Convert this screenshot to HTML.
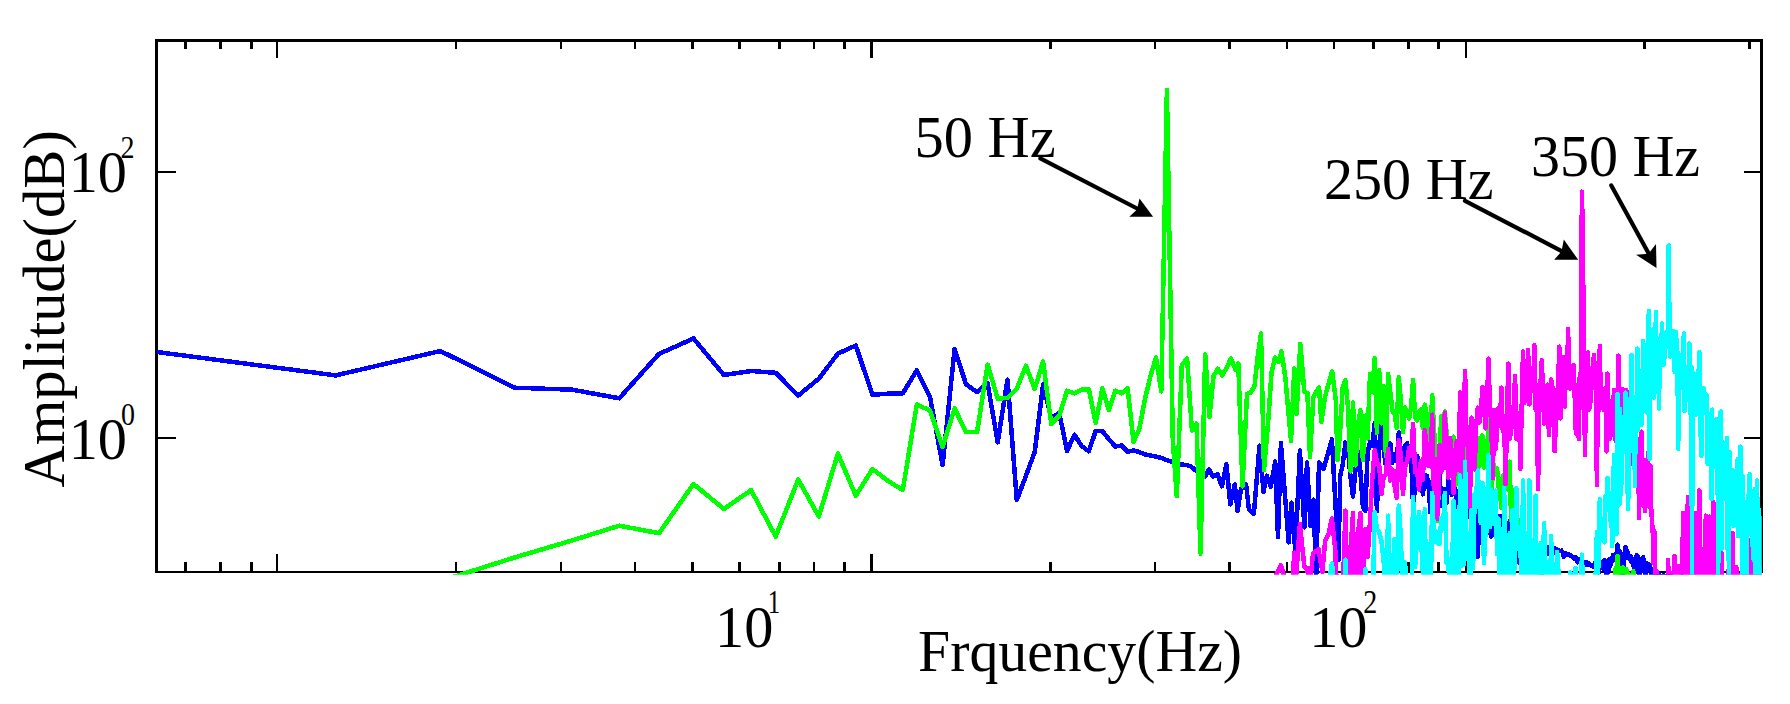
<!DOCTYPE html>
<html><head><meta charset="utf-8"><title>Spectrum</title>
<style>html,body{margin:0;padding:0;background:#fff}svg{display:block}text{font-family:"Liberation Serif","Times New Roman",serif;fill:#000}</style></head>
<body>
<svg width="1790" height="704" viewBox="0 0 1790 704">
<rect width="1790" height="704" fill="#fff"/>
<defs><clipPath id="c"><rect x="155" y="39" width="1606.8" height="535.7"/></clipPath></defs>
<g fill="none" stroke="#000" shape-rendering="crispEdges">
<line x1="156.5" y1="39" x2="156.5" y2="573" stroke-width="3"/>
<line x1="1761.4" y1="39" x2="1761.4" y2="573" stroke-width="3"/>
<line x1="155" y1="40.5" x2="1762.9" y2="40.5" stroke-width="3"/>
<line x1="155" y1="572" x2="1762.9" y2="572" stroke-width="2"/>
<g stroke-width="2.6"><line x1="185.5" y1="572" x2="185.5" y2="562"/><line x1="185.5" y1="40.5" x2="185.5" y2="49"/><line x1="220.5" y1="572" x2="220.5" y2="562"/><line x1="220.5" y1="40.5" x2="220.5" y2="49"/><line x1="251.2" y1="572" x2="251.2" y2="562"/><line x1="251.2" y1="40.5" x2="251.2" y2="49"/><line x1="456.1" y1="572" x2="456.1" y2="562"/><line x1="456.1" y1="40.5" x2="456.1" y2="49"/><line x1="560.8" y1="572" x2="560.8" y2="562"/><line x1="560.8" y1="40.5" x2="560.8" y2="49"/><line x1="635.0" y1="572" x2="635.0" y2="562"/><line x1="635.0" y1="40.5" x2="635.0" y2="49"/><line x1="692.6" y1="572" x2="692.6" y2="562"/><line x1="692.6" y1="40.5" x2="692.6" y2="49"/><line x1="739.7" y1="572" x2="739.7" y2="562"/><line x1="739.7" y1="40.5" x2="739.7" y2="49"/><line x1="779.4" y1="572" x2="779.4" y2="562"/><line x1="779.4" y1="40.5" x2="779.4" y2="49"/><line x1="813.9" y1="572" x2="813.9" y2="562"/><line x1="813.9" y1="40.5" x2="813.9" y2="49"/><line x1="844.3" y1="572" x2="844.3" y2="562"/><line x1="844.3" y1="40.5" x2="844.3" y2="49"/><line x1="1050.4" y1="572" x2="1050.4" y2="562"/><line x1="1050.4" y1="40.5" x2="1050.4" y2="49"/><line x1="1155.1" y1="572" x2="1155.1" y2="562"/><line x1="1155.1" y1="40.5" x2="1155.1" y2="49"/><line x1="1229.3" y1="572" x2="1229.3" y2="562"/><line x1="1229.3" y1="40.5" x2="1229.3" y2="49"/><line x1="1286.9" y1="572" x2="1286.9" y2="562"/><line x1="1286.9" y1="40.5" x2="1286.9" y2="49"/><line x1="1334.0" y1="572" x2="1334.0" y2="562"/><line x1="1334.0" y1="40.5" x2="1334.0" y2="49"/><line x1="1373.7" y1="572" x2="1373.7" y2="562"/><line x1="1373.7" y1="40.5" x2="1373.7" y2="49"/><line x1="1408.2" y1="572" x2="1408.2" y2="562"/><line x1="1408.2" y1="40.5" x2="1408.2" y2="49"/><line x1="1438.6" y1="572" x2="1438.6" y2="562"/><line x1="1438.6" y1="40.5" x2="1438.6" y2="49"/><line x1="1644.7" y1="572" x2="1644.7" y2="562"/><line x1="1644.7" y1="40.5" x2="1644.7" y2="49"/><line x1="1749.4" y1="572" x2="1749.4" y2="562"/><line x1="1749.4" y1="40.5" x2="1749.4" y2="49"/><line x1="277.0" y1="572" x2="277.0" y2="553.5"/><line x1="277.0" y1="40.5" x2="277.0" y2="58"/><line x1="871.5" y1="572" x2="871.5" y2="553.5"/><line x1="871.5" y1="40.5" x2="871.5" y2="58"/><line x1="1465.8" y1="572" x2="1465.8" y2="553.5"/><line x1="1465.8" y1="40.5" x2="1465.8" y2="58"/><line x1="156.5" y1="438" x2="176" y2="438" stroke-width="2"/><line x1="1761.4" y1="438" x2="1743.5" y2="438" stroke-width="2"/><line x1="156.5" y1="171.8" x2="176" y2="171.8" stroke-width="2"/><line x1="1761.4" y1="171.8" x2="1743.5" y2="171.8" stroke-width="2"/></g>
</g>
<g clip-path="url(#c)" shape-rendering="crispEdges" fill="none" stroke-width="4.5" stroke-linejoin="round" stroke-linecap="butt">
<path stroke="#0000ff" d="M156.8,352.0 L335.7,375.4 L440.4,351.0 L514.6,387.7 L572.2,389.7 L619.3,398.3 L659.0,353.9 L693.5,338.5 L723.9,375.0 L751.1,371.0 L775.7,372.8 L798.2,395.5 L818.8,378.7 L837.9,353.6 L855.8,345.5 L872.4,394.8 L888.1,393.7 L902.8,393.3 L916.8,370.2 L930.0,397.0 L942.6,465.2 L954.6,349.1 L966.1,384.5 L977.1,392.0 L987.6,383.3 L997.7,442.3 L1007.5,379.6 L1016.8,500.0 L1025.9,476.0 L1034.7,452.0 L1043.1,384.6 L1051.3,418.0 L1059.3,413.0 L1067.0,451.3 L1074.4,434.7 L1081.7,446.0 L1088.8,451.3 L1095.7,431.0 L1102.4,431.0 L1108.9,439.2 L1115.3,446.5 L1121.5,445.5 L1127.6,451.8 L1133.5,450.4 L1139.3,452.0 L1145.0,454.5 L1150.5,455.5 L1156.0,456.5 L1161.3,458.0 L1166.5,460.0 L1171.6,461.5 L1176.6,463.5 L1181.5,464.5 L1186.4,465.0 L1191.1,466.5 L1195.7,470.5 L1200.3,473.0 L1204.8,477.0 L1209.0,469.6 L1213.0,476.8 L1217.4,474.1 L1221.9,486.3 L1226.4,464.3 L1230.3,504.3 L1234.8,484.5 L1237.6,511.0 L1241.0,489.0 L1246.1,484.5 L1248.9,509.3 L1253.9,513.8 L1259.5,445.5 L1263.5,491.9 L1266.8,475.6 L1270.8,486.9 L1275.2,461.4 L1278.0,537.3 L1280.9,443.2 L1288.7,542.5 L1291.5,502.5 L1295.4,552.0 L1299.9,450.5 L1304.4,527.3 L1307.0,462.3 L1310.6,526.2 L1313.4,499.7 L1316.2,576.0 L1319.0,462.3 L1323.5,469.0 L1331.9,439.3 L1338.5,560.0 L1340.2,476.5 L1342.8,463.8 L1345.4,442.5 L1348.0,448.9 L1350.5,476.9 L1353.0,496.5 L1355.5,469.3 L1358.0,451.5 L1360.4,471.2 L1362.9,506.6 L1365.3,510.9 L1367.6,452.9 L1370.0,442.1 L1372.3,445.4 L1374.7,423.4 L1376.9,511.3 L1379.2,445.5 L1381.5,423.9 L1383.7,449.0 L1385.9,466.1 L1388.1,447.2 L1390.3,443.6 L1392.5,462.6 L1394.6,454.0 L1396.7,461.4 L1398.8,432.4 L1400.9,452.3 L1403.0,484.2 L1405.1,445.1 L1407.1,443.1 L1409.1,458.5 L1411.1,455.5 L1413.1,508.3 L1415.1,485.1 L1417.1,455.9 L1419.0,462.6 L1420.9,472.2 L1422.9,494.4 L1424.8,475.6 L1426.7,475.6 L1428.5,485.2 L1430.4,512.5 L1432.2,482.1 L1434.1,505.1 L1435.9,515.9 L1437.7,477.0 L1439.5,472.1 L1441.3,505.9 L1443.1,506.6 L1444.8,488.9 L1446.6,503.1 L1448.3,480.6 L1450.1,487.6 L1451.8,494.6 L1453.5,474.9 L1455.2,488.1 L1456.8,508.6 L1458.5,513.3 L1460.2,497.4 L1461.8,507.2 L1463.5,486.5 L1465.1,526.1 L1466.7,510.6 L1468.3,516.6 L1469.9,498.4 L1471.5,496.5 L1473.1,500.6 L1474.7,523.8 L1476.2,498.9 L1477.8,556.7 L1479.3,517.9 L1480.8,497.6 L1482.4,499.6 L1483.9,553.5 L1485.4,512.2 L1486.9,533.2 L1488.4,517.5 L1489.8,530.6 L1491.3,536.7 L1492.8,522.7 L1494.2,521.8 L1495.7,525.9 L1497.1,525.8 L1498.5,533.1 L1500.0,516.2 L1501.4,538.2 L1502.8,519.7 L1504.2,527.6 L1505.6,527.1 L1507.0,563.2 L1508.3,530.4 L1509.7,521.0 L1511.1,536.4 L1512.4,525.5 L1513.8,540.2 L1515.1,549.4 L1516.4,533.5 L1517.8,534.5 L1519.1,562.5 L1520.4,537.2 L1521.7,545.8 L1523.0,537.9 L1524.3,549.8 L1525.6,555.7 L1526.9,540.8 L1528.1,547.5 L1529.4,544.0 L1530.7,571.7 L1531.9,548.1 L1533.2,547.8 L1534.4,553.9 L1535.7,557.7 L1536.9,557.7 L1538.1,546.9 L1539.3,548.9 L1540.6,547.0 L1541.8,553.2 L1543.0,549.0 L1544.2,550.5 L1545.4,549.6 L1546.5,549.0 L1547.7,554.1 L1548.9,547.2 L1550.1,549.0 L1551.2,548.6 L1552.4,553.9 L1553.6,552.6 L1554.7,547.8 L1555.8,551.2 L1557.0,549.4 L1558.1,551.2 L1559.3,550.4 L1560.4,551.2 L1561.5,550.6 L1562.6,552.4 L1563.7,556.7 L1564.8,555.7 L1565.9,553.4 L1567.0,554.8 L1568.1,554.8 L1569.2,554.5 L1570.3,556.1 L1571.4,555.6 L1572.4,556.6 L1573.5,557.6 L1574.6,559.0 L1575.6,557.5 L1576.7,558.9 L1577.7,562.4 L1578.8,561.1 L1579.8,559.2 L1580.9,563.4 L1581.9,561.3 L1582.9,563.5 L1584.0,562.0 L1585.0,562.1 L1586.0,565.0 L1587.0,562.4 L1588.0,564.1 L1589.0,563.2 L1590.0,565.1 L1591.0,565.1 L1592.0,566.0 L1593.0,566.8 L1594.0,565.4 L1595.0,563.0 L1596.0,565.5 L1596.9,566.6 L1597.9,568.3 L1598.9,572.3 L1599.8,565.4 L1600.8,566.0 L1601.8,562.8 L1602.7,566.9 L1603.7,568.9 L1604.6,560.0 L1605.6,561.9 L1606.5,573.6 L1607.4,566.2 L1608.4,571.9 L1609.3,559.4 L1610.2,565.8 L1611.1,563.4 L1612.1,558.4 L1613.0,555.0 L1613.9,556.0 L1614.8,560.2 L1615.7,553.7 L1616.6,559.4 L1617.5,544.5 L1618.4,563.9 L1619.3,551.0 L1620.2,551.6 L1621.1,558.0 L1622.0,563.4 L1622.9,580.6 L1623.7,557.6 L1624.6,558.4 L1625.5,547.0 L1626.4,558.1 L1627.2,551.0 L1628.1,555.1 L1629.0,558.6 L1629.8,556.1 L1630.7,556.6 L1631.5,561.5 L1632.4,562.6 L1633.2,559.5 L1634.1,570.7 L1634.9,567.5 L1635.7,571.7 L1636.6,555.1 L1637.4,558.7 L1638.2,557.1 L1639.1,568.7 L1639.9,581.1 L1640.7,561.5 L1641.5,564.7 L1642.4,557.8 L1643.2,557.1 L1644.0,571.2 L1644.8,563.4 L1645.6,577.3 L1646.4,566.1 L1647.2,563.5 L1648.0,568.1 L1648.8,568.4 L1649.6,564.7 L1650.4,567.5 L1651.2,569.5 L1652.0,576.6 L1652.8,569.5 L1653.6,573.1 L1654.3,570.2 L1655.1,572.5 L1655.9,574.1 L1656.7,573.8 L1657.4,577.6 L1658.2,576.1 L1659.0,574.3 L1659.7,576.7 L1660.5,576.9 L1661.3,578.2 L1662.0,576.8 L1662.8,578.5 L1663.5,575.4 L1664.3,578.1 L1665.0,577.0 L1665.8,576.4 L1666.5,576.7 L1667.3,576.5 L1668.0,577.1 L1668.7,579.4 L1669.5,576.9 L1670.2,575.8 L1670.9,579.0 L1671.7,576.5 L1672.4,577.8 L1673.1,577.5 L1673.9,578.2 L1674.6,577.4 L1675.3,577.8 L1676.0,577.9 L1676.7,577.9 L1677.4,577.1 L1678.2,577.0 L1678.9,578.3 L1679.6,579.9 L1680.3,578.1 L1681.0,579.0 L1681.7,577.7 L1682.4,576.5 L1683.1,580.1 L1683.8,580.5 L1684.5,580.4 L1685.2,578.5 L1685.9,580.6 L1686.5,580.4 L1687.2,577.8 L1687.9,578.0 L1688.6,578.7 L1689.3,577.9 L1690.0,580.4 L1690.6,578.1 L1691.3,576.7 L1692.0,577.3 L1692.7,577.2 L1693.3,579.4 L1694.0,576.8 L1694.7,578.8 L1695.3,580.2 L1696.0,580.8 L1696.7,578.6 L1697.3,578.4 L1698.0,581.8 L1698.6,578.4 L1699.3,580.9 L1700.0,580.1 L1700.6,579.5 L1701.3,578.5 L1701.9,578.1 L1702.6,578.3 L1703.2,578.4 L1703.8,579.2 L1704.5,579.0 L1705.1,578.7 L1705.8,579.5 L1706.4,577.9 L1707.0,578.2 L1707.7,579.7 L1708.3,580.3 L1708.9,578.8 L1709.6,580.5 L1710.2,577.6 L1710.8,577.6 L1711.5,582.3 L1712.1,581.4 L1712.7,578.3 L1713.3,582.1 L1713.9,581.4 L1714.6,579.2 L1715.2,580.4 L1715.8,579.9 L1716.4,580.0 L1717.0,581.9 L1717.6,580.1 L1718.2,579.1 L1718.9,579.5 L1719.5,579.2 L1720.1,579.9 L1720.7,579.5 L1721.3,580.9 L1721.9,579.5 L1722.5,579.6 L1723.1,579.5 L1723.7,580.0 L1724.3,578.2 L1724.9,583.8 L1725.4,578.3 L1726.0,579.8 L1726.6,579.5 L1727.2,579.8 L1727.8,579.9 L1728.4,579.7 L1729.0,581.3 L1729.6,580.8 L1730.1,580.2 L1730.7,580.3 L1731.3,580.5 L1731.9,579.8 L1732.5,580.5 L1733.0,581.2 L1733.6,581.2 L1734.2,580.9 L1734.7,580.8 L1735.3,581.4 L1735.9,580.0 L1736.5,579.8 L1737.0,582.4 L1737.6,580.0 L1738.2,579.1 L1738.7,579.8 L1739.3,581.7 L1739.8,582.4 L1740.4,581.3 L1741.0,581.0 L1741.5,582.2 L1742.1,580.1 L1742.6,580.6 L1743.2,582.7 L1743.7,582.2 L1744.3,580.7 L1744.8,580.5 L1745.4,580.1 L1745.9,579.5 L1746.5,581.0 L1747.0,580.7 L1747.6,580.0 L1748.1,580.9 L1748.6,581.0 L1749.2,579.4 L1749.7,581.3 L1750.3,579.5 L1750.8,582.6 L1751.3,579.9 L1751.9,582.2 L1752.4,580.7 L1752.9,580.4 L1753.5,580.0 L1754.0,581.4 L1754.5,580.3 L1755.1,581.6 L1755.6,579.7 L1756.1,582.0 L1756.6,580.9 L1757.2,581.4 L1757.7,580.1 L1758.2,580.2 L1758.7,580.2 L1759.2,581.4 L1759.8,582.3 L1760.3,581.4 L1760.8,580.9"/>
<path stroke="#00ff00" d="M440.4,581.0 L514.6,557.5 L572.2,540.4 L619.3,525.7 L659.0,533.2 L693.5,484.0 L723.9,509.0 L751.1,490.1 L775.7,536.5 L798.2,479.6 L818.8,516.4 L837.9,453.6 L855.8,495.8 L872.4,469.0 L888.1,481.0 L902.8,490.0 L916.8,404.6 L930.0,410.4 L942.6,447.0 L954.6,408.4 L966.1,432.2 L977.1,431.9 L987.6,364.5 L997.7,398.7 L1007.5,397.9 L1016.8,388.7 L1025.9,365.7 L1034.7,389.0 L1043.1,361.5 L1051.3,424.2 L1059.3,415.5 L1067.0,390.7 L1074.4,393.3 L1081.7,389.5 L1088.8,389.5 L1095.7,423.0 L1102.4,388.3 L1108.9,410.1 L1115.3,390.7 L1121.5,393.3 L1127.6,388.2 L1133.5,441.8 L1139.3,428.9 L1145.0,399.0 L1150.5,376.0 L1156.0,357.5 L1161.3,391.3 L1166.9,90.1 L1172.8,440.0 L1176.8,496.0 L1181.8,365.0 L1187.1,358.4 L1191.9,430.4 L1196.5,423.6 L1200.5,553.7 L1205.2,354.5 L1209.5,417.2 L1213.5,376.0 L1217.9,368.8 L1222.3,375.6 L1226.9,367.0 L1231.0,358.4 L1235.3,369.4 L1238.3,363.5 L1242.5,486.3 L1247.0,394.0 L1250.8,392.4 L1254.5,386.2 L1257.5,358.2 L1261.0,333.5 L1264.0,470.2 L1268.5,417.0 L1271.5,372.7 L1275.0,357.6 L1278.5,362.0 L1281.5,351.4 L1285.4,378.4 L1288.7,415.0 L1291.0,441.0 L1294.3,368.5 L1296.6,414.0 L1300.3,343.8 L1304.4,392.0 L1307.4,393.0 L1310.0,457.3 L1313.3,397.4 L1316.2,392.0 L1319.1,387.3 L1321.3,422.0 L1324.8,398.0 L1327.6,387.0 L1332.1,371.4 L1335.8,400.0 L1337.5,460.0 L1340.2,430.0 L1342.8,386.2 L1345.4,380.4 L1348.0,407.3 L1350.5,471.4 L1353.0,402.6 L1355.5,465.4 L1358.0,425.5 L1360.4,410.1 L1362.9,460.3 L1365.3,415.7 L1367.6,438.5 L1370.0,374.2 L1372.3,391.4 L1374.7,358.1 L1376.9,432.8 L1379.2,370.3 L1381.5,423.3 L1383.7,386.2 L1385.9,455.9 L1388.1,374.2 L1390.3,392.1 L1392.5,411.4 L1394.6,413.4 L1396.7,428.0 L1398.8,377.2 L1400.9,402.0 L1403.0,432.3 L1405.1,407.6 L1407.1,414.6 L1409.1,418.6 L1411.1,406.8 L1413.1,380.1 L1415.1,417.6 L1417.1,420.4 L1419.0,411.4 L1420.9,409.5 L1422.9,428.4 L1424.8,404.6 L1426.7,414.8 L1428.5,447.0 L1430.4,435.6 L1432.2,395.2 L1434.1,430.8 L1435.9,451.0 L1437.7,521.0 L1439.5,453.6 L1441.3,416.5 L1443.1,423.5 L1444.8,411.4 L1446.6,433.1 L1448.3,443.5 L1450.1,455.0 L1451.8,444.4 L1453.5,436.6 L1455.2,471.2 L1456.8,484.4 L1458.5,440.6 L1460.2,458.3 L1461.8,446.4 L1463.5,447.1 L1465.1,440.2 L1466.7,461.2 L1468.3,464.4 L1469.9,451.4 L1471.5,452.3 L1473.1,455.5 L1474.7,449.0 L1476.2,450.3 L1477.8,437.7 L1479.3,466.6 L1480.8,449.3 L1482.4,435.4 L1483.9,467.5 L1485.4,454.0 L1486.9,466.4 L1488.4,418.9 L1489.8,499.6 L1491.3,523.9 L1492.8,457.3 L1494.2,475.3 L1495.7,470.5 L1497.1,468.3 L1498.5,486.4 L1500.0,492.2 L1501.4,508.1 L1502.8,475.7 L1504.2,475.2 L1505.6,482.1 L1507.0,475.8 L1508.3,489.7 L1509.7,461.6 L1511.1,519.8 L1512.4,489.9 L1513.8,516.3 L1515.1,515.3 L1516.4,525.9 L1517.8,519.0 L1519.1,520.3 L1520.4,528.1 L1521.7,541.8 L1523.0,549.8 L1524.3,532.0 L1525.6,552.1 L1526.9,551.5 L1528.1,567.4 L1529.4,561.5 L1530.7,571.0 L1531.9,564.5 L1533.2,561.0 L1534.4,558.5 L1535.7,566.0 L1536.9,571.6 L1538.1,569.6 L1539.3,571.7 L1540.6,572.5 L1541.8,575.9 L1543.0,576.3 L1544.2,579.7 L1545.4,581.0 L1546.5,580.8 L1547.7,580.4 L1548.9,580.8 L1550.1,581.1 L1551.2,581.2 L1552.4,581.1 L1553.6,581.4 L1554.7,581.4 L1555.8,580.9 L1557.0,581.1 L1558.1,581.4 L1559.3,582.4 L1560.4,581.8 L1561.5,582.1 L1562.6,581.6 L1563.7,582.4 L1564.8,581.7 L1565.9,582.7 L1567.0,582.5 L1568.1,581.9 L1569.2,582.5 L1570.3,582.1 L1571.4,582.7 L1572.4,583.2 L1573.5,582.7 L1574.6,583.0 L1575.6,583.1 L1576.7,583.8 L1577.7,583.8 L1578.8,582.8 L1579.8,582.8 L1580.9,582.9 L1581.9,583.8 L1582.9,584.7 L1584.0,583.7 L1585.0,583.6 L1586.0,583.8 L1587.0,584.9 L1588.0,584.4 L1589.0,583.9 L1590.0,585.2 L1591.0,583.9 L1592.0,583.7 L1593.0,584.8 L1594.0,585.5 L1595.0,583.9 L1596.0,584.4 L1596.9,584.8 L1597.9,584.9 L1598.9,584.4 L1599.8,585.2 L1600.8,586.1 L1601.8,585.0 L1602.7,585.5 L1603.7,585.1 L1604.6,584.7 L1605.6,585.6 L1606.5,585.9 L1607.4,586.6 L1608.4,585.3 L1609.3,586.6 L1610.2,584.5 L1611.1,582.9 L1612.1,579.5 L1613.0,577.8 L1613.9,580.9 L1614.8,579.9 L1615.7,568.1 L1616.6,575.2 L1617.5,556.0 L1618.4,576.0 L1619.3,573.5 L1620.2,568.6 L1621.1,575.3 L1622.0,568.8 L1622.9,567.6 L1623.7,575.4 L1624.6,576.2 L1625.5,585.8 L1626.4,569.0 L1627.2,583.2 L1628.1,574.9 L1629.0,574.4 L1629.8,576.1 L1630.7,576.3 L1631.5,576.9 L1632.4,574.5 L1633.2,571.0 L1634.1,576.4 L1634.9,581.9 L1635.7,585.1 L1636.6,585.3 L1637.4,584.4 L1638.2,587.5 L1639.1,588.0 L1639.9,589.7 L1640.7,590.0 L1641.5,590.0 L1642.4,590.0 L1643.2,590.0 L1644.0,590.0 L1644.8,590.1 L1645.6,590.1 L1646.4,590.1 L1647.2,590.1 L1648.0,590.2 L1648.8,590.2 L1649.6,590.2 L1650.4,590.2 L1651.2,590.5 L1652.0,590.3 L1652.8,590.3 L1653.6,590.3 L1654.3,590.9 L1655.1,590.5 L1655.9,590.1 L1656.7,590.2 L1657.4,590.1 L1658.2,590.3 L1659.0,590.5 L1659.7,590.1 L1660.5,590.7 L1661.3,590.5 L1662.0,590.5 L1662.8,590.6 L1663.5,590.8 L1664.3,590.8 L1665.0,590.5 L1665.8,590.9 L1666.5,590.8 L1667.3,590.9 L1668.0,590.9 L1668.7,590.4 L1669.5,590.7 L1670.2,592.1 L1670.9,590.5 L1671.7,590.8 L1672.4,590.5 L1673.1,590.9 L1673.9,591.2 L1674.6,590.4 L1675.3,591.5 L1676.0,591.3 L1676.7,591.0 L1677.4,590.4 L1678.2,591.9 L1678.9,591.3 L1679.6,591.0 L1680.3,590.8 L1681.0,592.0 L1681.7,590.7 L1682.4,591.0 L1683.1,591.1 L1683.8,591.4 L1684.5,591.5 L1685.2,590.4 L1685.9,590.2 L1686.5,592.0 L1687.2,591.9 L1687.9,591.0 L1688.6,590.8 L1689.3,590.7 L1690.0,591.8 L1690.6,592.1 L1691.3,592.8 L1692.0,591.7 L1692.7,591.3 L1693.3,590.6 L1694.0,593.6 L1694.7,592.9 L1695.3,591.1 L1696.0,591.1 L1696.7,592.8 L1697.3,593.0 L1698.0,593.9 L1698.6,591.2 L1699.3,592.2 L1700.0,592.3 L1700.6,591.2 L1701.3,593.0 L1701.9,591.6 L1702.6,593.3 L1703.2,593.6 L1703.8,591.3 L1704.5,591.0 L1705.1,591.8 L1705.8,592.0 L1706.4,591.3 L1707.0,593.7 L1707.7,592.5 L1708.3,590.6 L1708.9,590.4 L1709.6,594.5 L1710.2,595.5 L1710.8,591.2 L1711.5,592.1 L1712.1,591.2 L1712.7,591.6 L1713.3,592.1 L1713.9,591.4 L1714.6,591.7 L1715.2,595.7 L1715.8,592.1 L1716.4,590.8 L1717.0,591.2 L1717.6,591.6 L1718.2,591.7 L1718.9,591.1 L1719.5,592.9 L1720.1,592.5 L1720.7,591.8 L1721.3,591.1 L1721.9,592.9 L1722.5,593.7 L1723.1,593.1 L1723.7,592.5 L1724.3,594.4 L1724.9,591.9 L1725.4,590.8 L1726.0,592.9 L1726.6,590.4 L1727.2,592.7 L1727.8,592.3 L1728.4,590.3 L1729.0,591.7 L1729.6,592.4 L1730.1,591.5 L1730.7,592.6 L1731.3,591.7 L1731.9,593.8 L1732.5,595.2 L1733.0,592.2 L1733.6,592.5 L1734.2,592.7 L1734.7,594.8 L1735.3,590.7 L1735.9,594.9 L1736.5,590.3 L1737.0,593.4 L1737.6,593.6 L1738.2,590.6 L1738.7,590.4 L1739.3,591.9 L1739.8,590.5 L1740.4,594.5 L1741.0,591.2 L1741.5,592.3 L1742.1,593.7 L1742.6,592.4 L1743.2,595.3 L1743.7,591.6 L1744.3,592.3 L1744.8,595.4 L1745.4,594.4 L1745.9,593.9 L1746.5,593.0 L1747.0,594.3 L1747.6,593.9 L1748.1,592.7 L1748.6,595.1 L1749.2,591.9 L1749.7,593.2 L1750.3,593.4 L1750.8,592.7 L1751.3,595.2 L1751.9,591.1 L1752.4,595.7 L1752.9,592.9 L1753.5,590.4 L1754.0,595.5 L1754.5,592.2 L1755.1,590.4 L1755.6,590.4 L1756.1,593.9 L1756.6,592.6 L1757.2,590.7 L1757.7,592.6 L1758.2,591.3 L1758.7,592.3 L1759.2,597.9 L1759.8,594.1 L1760.3,591.2 L1760.8,593.5"/>
<path stroke="#ff00ff" d="M1273.0,590.0 L1275.8,576.0 L1280.9,565.3 L1284.2,576.0 L1288.0,590.0 L1292.6,580.0 L1294.3,552.7 L1296.0,578.0 L1299.9,524.1 L1304.4,567.3 L1307.2,567.9 L1308.4,578.0 L1310.6,578.0 L1313.0,553.3 L1318.5,549.3 L1322.4,572.0 L1325.2,540.4 L1328.6,533.7 L1331.9,518.5 L1335.3,550.5 L1336.4,578.0 L1340.2,614.8 L1342.8,592.5 L1345.4,510.6 L1348.0,612.5 L1350.5,551.1 L1353.0,513.1 L1355.5,687.9 L1358.0,534.3 L1360.4,513.1 L1362.9,586.9 L1365.3,529.3 L1367.6,556.9 L1370.0,521.0 L1372.3,478.8 L1374.7,450.3 L1376.9,462.0 L1379.2,465.6 L1381.5,494.0 L1383.7,476.4 L1385.9,474.9 L1388.1,449.1 L1390.3,480.5 L1392.5,469.7 L1394.6,485.4 L1396.7,497.8 L1398.8,440.3 L1400.9,455.2 L1403.0,493.8 L1405.1,466.6 L1407.1,461.8 L1409.1,448.0 L1411.1,455.9 L1413.1,423.9 L1415.1,471.8 L1417.1,470.2 L1419.0,489.5 L1420.9,460.7 L1422.9,479.5 L1424.8,430.2 L1426.7,445.7 L1428.5,465.8 L1430.4,466.3 L1432.2,414.6 L1434.1,501.3 L1435.9,458.9 L1437.7,519.2 L1439.5,445.0 L1441.3,471.8 L1443.1,467.6 L1444.8,412.6 L1446.6,452.5 L1448.3,477.6 L1450.1,438.2 L1451.8,452.3 L1453.5,492.9 L1455.2,455.5 L1456.8,441.0 L1458.5,469.6 L1460.2,392.5 L1461.8,481.4 L1463.5,422.5 L1465.1,371.1 L1466.7,445.1 L1468.3,446.3 L1469.9,507.4 L1471.5,417.6 L1473.1,429.9 L1474.7,469.6 L1476.2,425.3 L1477.8,407.6 L1479.3,422.3 L1480.8,414.1 L1482.4,387.0 L1483.9,390.4 L1485.4,428.3 L1486.9,409.0 L1488.4,358.6 L1489.8,401.4 L1491.3,425.7 L1492.8,478.0 L1494.2,410.1 L1495.7,449.3 L1497.1,430.6 L1498.5,408.0 L1500.0,422.6 L1501.4,387.5 L1502.8,431.3 L1504.2,422.4 L1505.6,484.0 L1507.0,418.8 L1508.3,363.6 L1509.7,438.6 L1511.1,431.2 L1512.4,410.9 L1513.8,404.9 L1515.1,376.2 L1516.4,438.8 L1517.8,413.4 L1519.1,413.2 L1520.4,468.9 L1521.7,407.6 L1523.0,351.5 L1524.3,402.7 L1525.6,393.7 L1526.9,383.7 L1528.1,349.8 L1529.4,404.4 L1530.7,387.9 L1531.9,379.7 L1533.2,385.4 L1534.4,345.2 L1535.7,409.7 L1536.9,407.1 L1538.1,489.0 L1539.3,383.9 L1540.6,381.9 L1541.8,360.3 L1543.0,392.1 L1544.2,423.7 L1545.4,403.6 L1546.5,404.6 L1547.7,384.6 L1548.9,435.0 L1550.1,409.9 L1551.2,379.4 L1552.4,386.8 L1553.6,397.0 L1554.7,451.3 L1555.8,423.4 L1557.0,393.9 L1558.1,386.0 L1559.3,346.7 L1560.4,418.4 L1561.5,382.2 L1562.6,403.5 L1563.7,357.3 L1564.8,406.6 L1565.9,366.7 L1567.0,381.5 L1568.1,329.1 L1569.2,385.0 L1570.3,388.5 L1571.4,378.8 L1572.4,373.3 L1573.5,364.8 L1574.6,391.8 L1575.6,428.7 L1576.7,434.5 L1577.7,407.7 L1578.8,439.0 L1579.8,375.5 L1580.9,372.0 L1581.9,191.6 L1582.9,241.0 L1584.0,372.3 L1585.0,455.0 L1586.0,375.1 L1587.0,373.1 L1588.0,352.3 L1589.0,409.5 L1590.0,405.5 L1591.0,395.4 L1592.0,373.4 L1593.0,364.6 L1594.0,354.8 L1595.0,376.2 L1596.0,388.6 L1596.9,485.2 L1597.9,382.1 L1598.9,410.1 L1599.8,346.0 L1600.8,403.3 L1601.8,403.9 L1602.7,403.9 L1603.7,409.6 L1604.6,406.7 L1605.6,388.0 L1606.5,451.3 L1607.4,373.6 L1608.4,405.0 L1609.3,400.6 L1610.2,438.5 L1611.1,422.3 L1612.1,423.1 L1613.0,424.5 L1613.9,390.0 L1614.8,415.4 L1615.7,440.8 L1616.6,434.0 L1617.5,457.0 L1618.4,355.5 L1619.3,393.5 L1620.2,404.1 L1621.1,424.5 L1622.0,421.5 L1622.9,389.3 L1623.7,398.4 L1624.6,427.9 L1625.5,425.1 L1626.4,390.0 L1627.2,405.5 L1628.1,432.0 L1629.0,434.4 L1629.8,440.2 L1630.7,442.8 L1631.5,463.3 L1632.4,450.8 L1633.2,422.1 L1634.1,444.5 L1634.9,448.4 L1635.7,407.6 L1636.6,454.0 L1637.4,444.6 L1638.2,453.5 L1639.1,518.0 L1639.9,463.8 L1640.7,458.1 L1641.5,431.5 L1642.4,482.0 L1643.2,466.1 L1644.0,460.0 L1644.8,511.0 L1645.6,487.0 L1646.4,464.2 L1647.2,498.2 L1648.0,452.8 L1648.8,484.4 L1649.6,507.1 L1650.4,465.4 L1651.2,508.2 L1652.0,520.6 L1652.8,533.1 L1653.6,563.2 L1654.3,530.7 L1655.1,553.6 L1655.9,628.5 L1656.7,571.5 L1657.4,594.3 L1658.2,615.3 L1659.0,577.3 L1659.7,612.7 L1660.5,649.4 L1661.3,640.7 L1662.0,595.4 L1662.8,667.2 L1663.5,630.0 L1664.3,614.4 L1665.0,581.3 L1665.8,588.8 L1666.5,635.1 L1667.3,690.6 L1668.0,559.6 L1668.7,576.7 L1669.5,649.3 L1670.2,700.0 L1670.9,605.7 L1671.7,573.1 L1672.4,579.4 L1673.1,598.3 L1673.9,584.2 L1674.6,555.8 L1675.3,603.2 L1676.0,683.7 L1676.7,590.4 L1677.4,602.8 L1678.2,566.2 L1678.9,621.1 L1679.6,667.4 L1680.3,673.2 L1681.0,627.8 L1681.7,579.2 L1682.4,563.8 L1683.1,513.1 L1683.8,565.0 L1684.5,528.0 L1685.2,585.8 L1685.9,578.2 L1686.5,523.1 L1687.2,533.2 L1687.9,496.8 L1688.6,538.5 L1689.3,671.2 L1690.0,618.1 L1690.6,572.9 L1691.3,555.9 L1692.0,585.7 L1692.7,582.3 L1693.3,658.1 L1694.0,621.8 L1694.7,619.3 L1695.3,534.6 L1696.0,513.1 L1696.7,672.6 L1697.3,563.2 L1698.0,517.8 L1698.6,564.1 L1699.3,490.5 L1700.0,581.9 L1700.6,564.5 L1701.3,615.4 L1701.9,561.0 L1702.6,554.4 L1703.2,559.2 L1703.8,548.4 L1704.5,560.5 L1705.1,576.7 L1705.8,515.6 L1706.4,574.2 L1707.0,700.0 L1707.7,558.2 L1708.3,548.9 L1708.9,538.9 L1709.6,516.6 L1710.2,544.2 L1710.8,554.2 L1711.5,531.4 L1712.1,586.8 L1712.7,548.8 L1713.3,501.8 L1713.9,542.9 L1714.6,586.3 L1715.2,561.9 L1715.8,588.5 L1716.4,622.4 L1717.0,621.1 L1717.6,545.9 L1718.2,624.5 L1718.9,551.5 L1719.5,605.4 L1720.1,645.2 L1720.7,519.4 L1721.3,554.4 L1721.9,561.9 L1722.5,649.8 L1723.1,700.0 L1723.7,618.2 L1724.3,608.2 L1724.9,622.1 L1725.4,610.9 L1726.0,595.2 L1726.6,583.8 L1727.2,700.0 L1727.8,599.7 L1728.4,589.5 L1729.0,556.1 L1729.6,617.8 L1730.1,564.2 L1730.7,594.3 L1731.3,642.1 L1731.9,575.9 L1732.5,533.2 L1733.0,582.9 L1733.6,569.2 L1734.2,589.3 L1734.7,601.4 L1735.3,579.6 L1735.9,595.6 L1736.5,567.3 L1737.0,611.4 L1737.6,607.9 L1738.2,628.3 L1738.7,619.3 L1739.3,620.9 L1739.8,700.0 L1740.4,605.0 L1741.0,615.5 L1741.5,589.5 L1742.1,554.6 L1742.6,617.9 L1743.2,625.6 L1743.7,612.6 L1744.3,631.7 L1744.8,664.1 L1745.4,573.3 L1745.9,565.1 L1746.5,582.8 L1747.0,561.4 L1747.6,570.3 L1748.1,626.0 L1748.6,655.0 L1749.2,580.3 L1749.7,540.7 L1750.3,611.4 L1750.8,557.1 L1751.3,587.8 L1751.9,604.4 L1752.4,572.5 L1752.9,575.0 L1753.5,571.7 L1754.0,610.1 L1754.5,588.5 L1755.1,621.1 L1755.6,633.4 L1756.1,606.0 L1756.6,583.4 L1757.2,577.4 L1757.7,642.1 L1758.2,570.0 L1758.7,624.4 L1759.2,601.6 L1759.8,597.5 L1760.3,635.6 L1760.8,565.9"/>
<path stroke="#00ffff" d="M1327.0,590.0 L1329.7,578.0 L1331.9,563.4 L1333.6,578.0 L1336.0,590.0 L1340.2,588.2 L1342.8,653.2 L1345.4,559.6 L1348.0,621.2 L1350.5,621.1 L1353.0,603.0 L1355.5,617.9 L1358.0,616.5 L1360.4,609.0 L1362.9,595.1 L1365.3,569.0 L1367.6,603.3 L1370.0,592.8 L1372.3,622.8 L1374.7,511.8 L1376.9,529.5 L1379.2,532.1 L1381.5,541.1 L1383.7,562.1 L1385.9,602.2 L1388.1,515.6 L1390.3,614.1 L1392.5,575.3 L1394.6,539.0 L1396.7,594.4 L1398.8,505.6 L1400.9,538.5 L1403.0,609.4 L1405.1,562.3 L1407.1,605.8 L1409.1,602.5 L1411.1,617.0 L1413.1,496.8 L1415.1,566.9 L1417.1,537.3 L1419.0,511.7 L1420.9,535.9 L1422.9,573.5 L1424.8,509.3 L1426.7,631.3 L1428.5,543.9 L1430.4,624.9 L1432.2,493.0 L1434.1,542.0 L1435.9,531.5 L1437.7,543.1 L1439.5,544.0 L1441.3,517.8 L1443.1,525.1 L1444.8,493.0 L1446.6,563.3 L1448.3,558.6 L1450.1,609.4 L1451.8,597.8 L1453.5,500.5 L1455.2,576.6 L1456.8,511.0 L1458.5,591.8 L1460.2,475.4 L1461.8,565.4 L1463.5,564.9 L1465.1,461.6 L1466.7,559.1 L1468.3,533.4 L1469.9,605.9 L1471.5,509.8 L1473.1,568.1 L1474.7,493.5 L1476.2,495.2 L1477.8,470.4 L1479.3,502.5 L1480.8,522.9 L1482.4,482.9 L1483.9,563.1 L1485.4,534.2 L1486.9,531.2 L1488.4,455.3 L1489.8,527.3 L1491.3,489.8 L1492.8,521.9 L1494.2,524.0 L1495.7,490.5 L1497.1,553.8 L1498.5,518.8 L1500.0,668.9 L1501.4,597.3 L1502.8,613.6 L1504.2,488.0 L1505.6,640.6 L1507.0,558.1 L1508.3,557.7 L1509.7,532.8 L1511.1,573.9 L1512.4,509.9 L1513.8,579.9 L1515.1,553.0 L1516.4,488.0 L1517.8,548.7 L1519.1,544.1 L1520.4,534.4 L1521.7,619.9 L1523.0,480.4 L1524.3,539.4 L1525.6,599.0 L1526.9,686.7 L1528.1,584.7 L1529.4,480.4 L1530.7,567.0 L1531.9,580.6 L1533.2,597.9 L1534.4,585.2 L1535.7,495.5 L1536.9,618.6 L1538.1,556.0 L1539.3,573.0 L1540.6,543.2 L1541.8,691.1 L1543.0,556.8 L1544.2,523.2 L1545.4,649.7 L1546.5,592.9 L1547.7,602.4 L1548.9,562.3 L1550.1,593.9 L1551.2,535.7 L1552.4,641.1 L1553.6,589.5 L1554.7,612.4 L1555.8,601.0 L1557.0,552.1 L1558.1,562.2 L1559.3,613.3 L1560.4,583.9 L1561.5,594.2 L1562.6,627.5 L1563.7,607.8 L1564.8,615.7 L1565.9,592.0 L1567.0,620.2 L1568.1,579.5 L1569.2,613.1 L1570.3,572.4 L1571.4,583.6 L1572.4,627.1 L1573.5,613.0 L1574.6,619.9 L1575.6,567.9 L1576.7,615.7 L1577.7,627.2 L1578.8,618.0 L1579.8,647.8 L1580.9,609.4 L1581.9,554.6 L1582.9,583.0 L1584.0,593.8 L1585.0,617.8 L1586.0,633.3 L1587.0,602.6 L1588.0,611.7 L1589.0,627.3 L1590.0,621.6 L1591.0,602.2 L1592.0,641.6 L1593.0,589.2 L1594.0,584.2 L1595.0,580.6 L1596.0,569.3 L1596.9,531.8 L1597.9,580.1 L1598.9,548.2 L1599.8,499.3 L1600.8,536.4 L1601.8,539.4 L1602.7,520.2 L1603.7,519.2 L1604.6,542.4 L1605.6,495.9 L1606.5,506.4 L1607.4,477.9 L1608.4,510.4 L1609.3,498.4 L1610.2,520.4 L1611.1,492.8 L1612.1,546.1 L1613.0,528.5 L1613.9,455.3 L1614.8,456.9 L1615.7,474.7 L1616.6,534.2 L1617.5,393.8 L1618.4,474.5 L1619.3,504.4 L1620.2,409.1 L1621.1,494.0 L1622.0,444.9 L1622.9,450.7 L1623.7,439.0 L1624.6,434.1 L1625.5,392.5 L1626.4,440.0 L1627.2,469.0 L1628.1,509.1 L1629.0,455.5 L1629.8,398.7 L1630.7,450.7 L1631.5,354.8 L1632.4,404.2 L1633.2,418.1 L1634.1,397.4 L1634.9,485.9 L1635.7,417.1 L1636.6,416.5 L1637.4,348.5 L1638.2,430.0 L1639.1,389.0 L1639.9,372.4 L1640.7,377.3 L1641.5,424.6 L1642.4,393.7 L1643.2,341.0 L1644.0,359.0 L1644.8,378.8 L1645.6,349.7 L1646.4,412.3 L1647.2,374.0 L1648.0,376.0 L1648.8,310.8 L1649.6,458.9 L1650.4,380.1 L1651.2,365.4 L1652.0,366.8 L1652.8,329.5 L1653.6,397.6 L1654.3,351.6 L1655.1,375.1 L1655.9,312.1 L1656.7,366.8 L1657.4,344.3 L1658.2,361.3 L1659.0,408.6 L1659.7,360.3 L1660.5,352.7 L1661.3,351.2 L1662.0,323.4 L1662.8,357.7 L1663.5,365.0 L1664.3,339.9 L1665.0,357.5 L1665.8,332.5 L1666.5,343.0 L1667.3,336.2 L1668.0,341.0 L1668.7,245.4 L1669.5,326.0 L1670.2,356.7 L1670.9,333.1 L1671.7,339.3 L1672.4,350.7 L1673.1,331.2 L1673.9,343.8 L1674.6,371.7 L1675.3,360.4 L1676.0,332.2 L1676.7,347.1 L1677.4,352.4 L1678.2,448.8 L1678.9,376.4 L1679.6,355.4 L1680.3,380.4 L1681.0,379.5 L1681.7,365.5 L1682.4,388.1 L1683.1,379.7 L1683.8,333.4 L1684.5,411.1 L1685.2,369.6 L1685.9,400.5 L1686.5,367.4 L1687.2,381.6 L1687.9,376.3 L1688.6,379.4 L1689.3,343.5 L1690.0,402.9 L1690.6,414.1 L1691.3,366.4 L1692.0,576.0 L1692.7,395.4 L1693.3,411.0 L1694.0,373.5 L1694.7,391.8 L1695.3,405.7 L1696.0,414.8 L1696.7,386.8 L1697.3,379.8 L1698.0,377.3 L1698.6,374.4 L1699.3,352.3 L1700.0,394.0 L1700.6,430.6 L1701.3,456.0 L1701.9,409.2 L1702.6,390.5 L1703.2,398.5 L1703.8,388.2 L1704.5,393.4 L1705.1,401.2 L1705.8,408.9 L1706.4,414.2 L1707.0,395.5 L1707.7,463.8 L1708.3,413.6 L1708.9,435.4 L1709.6,445.5 L1710.2,441.0 L1710.8,446.0 L1711.5,499.2 L1712.1,409.6 L1712.7,442.0 L1713.3,441.0 L1713.9,466.5 L1714.6,461.4 L1715.2,445.6 L1715.8,427.4 L1716.4,418.9 L1717.0,488.1 L1717.6,465.1 L1718.2,576.0 L1718.9,441.2 L1719.5,451.9 L1720.1,471.2 L1720.7,411.4 L1721.3,481.1 L1721.9,548.7 L1722.5,441.5 L1723.1,499.5 L1723.7,452.7 L1724.3,490.3 L1724.9,490.5 L1725.4,494.4 L1726.0,484.2 L1726.6,490.5 L1727.2,437.7 L1727.8,558.7 L1728.4,496.5 L1729.0,579.3 L1729.6,452.1 L1730.1,464.3 L1730.7,489.7 L1731.3,495.7 L1731.9,504.0 L1732.5,470.0 L1733.0,504.3 L1733.6,525.8 L1734.2,498.1 L1734.7,491.3 L1735.3,520.5 L1735.9,517.4 L1736.5,471.7 L1737.0,476.4 L1737.6,459.2 L1738.2,535.9 L1738.7,483.8 L1739.3,517.8 L1739.8,477.3 L1740.4,446.5 L1741.0,532.3 L1741.5,504.4 L1742.1,576.0 L1742.6,476.4 L1743.2,533.7 L1743.7,525.2 L1744.3,593.3 L1744.8,516.4 L1745.4,513.9 L1745.9,502.2 L1746.5,576.2 L1747.0,511.1 L1747.6,535.0 L1748.1,496.1 L1748.6,531.7 L1749.2,512.6 L1749.7,474.2 L1750.3,512.1 L1750.8,515.3 L1751.3,528.5 L1751.9,519.3 L1752.4,546.4 L1752.9,529.3 L1753.5,559.7 L1754.0,544.9 L1754.5,489.4 L1755.1,515.2 L1755.6,567.3 L1756.1,590.1 L1756.6,503.1 L1757.2,480.4 L1757.7,615.8 L1758.2,511.2 L1758.7,583.2 L1759.2,510.1 L1759.8,563.4 L1760.3,530.1 L1760.8,615.6"/>
</g>
<g stroke="#000" stroke-width="4.2" stroke-linecap="round">
<line x1="1040.3" y1="158.4" x2="1140" y2="210"/>
<line x1="1465" y1="200.8" x2="1564" y2="252.3"/>
<line x1="1611.3" y1="185.4" x2="1649.5" y2="255"/>
</g>
<g fill="#000">
<polygon points="1153.1,216.8 1139.5,198.6 1137,209.5 1129.3,216.8"/>
<polygon points="1578.2,259.8 1563.8,239.6 1561.5,251.4 1554.2,259.8"/>
<polygon points="1656.5,267.9 1656,244 1648.5,253.8 1636.1,254.7"/>
</g>
<text x="914.5" y="157.2" font-size="59.5" textLength="141.3" lengthAdjust="spacingAndGlyphs" >50 Hz</text>
<text x="1323.9" y="198.5" font-size="59.5" textLength="169.7" lengthAdjust="spacingAndGlyphs" >250 Hz</text>
<text x="1530.9" y="175.9" font-size="59.5" textLength="169.2" lengthAdjust="spacingAndGlyphs" >350 Hz</text>
<text x="918" y="671" font-size="59.5" textLength="324.1" lengthAdjust="spacingAndGlyphs" >Frquency(Hz)</text>
<text transform="translate(64.2,487.6) rotate(-90)" font-size="59.5" textLength="357.4" lengthAdjust="spacingAndGlyphs">Amplitude(dB)</text>
<text x="715" y="647.1" font-size="58.3" textLength="58.3" lengthAdjust="spacingAndGlyphs" >10</text><text x="767.8" y="613.2" font-size="33" textLength="12.5" lengthAdjust="spacingAndGlyphs" >1</text>
<text x="1309.2" y="647.1" font-size="58.3" textLength="58.3" lengthAdjust="spacingAndGlyphs" >10</text><text x="1363.2" y="613.2" font-size="33" textLength="14" lengthAdjust="spacingAndGlyphs" >2</text>
<text x="68.7" y="192.3" font-size="58.3" textLength="58.3" lengthAdjust="spacingAndGlyphs" >10</text><text x="120.5" y="157.8" font-size="32" textLength="14" lengthAdjust="spacingAndGlyphs" >2</text>
<text x="68.7" y="459.1" font-size="58.3" textLength="58.3" lengthAdjust="spacingAndGlyphs" >10</text><text x="121" y="425.1" font-size="32" textLength="14" lengthAdjust="spacingAndGlyphs" >0</text>
</svg>
</body></html>
